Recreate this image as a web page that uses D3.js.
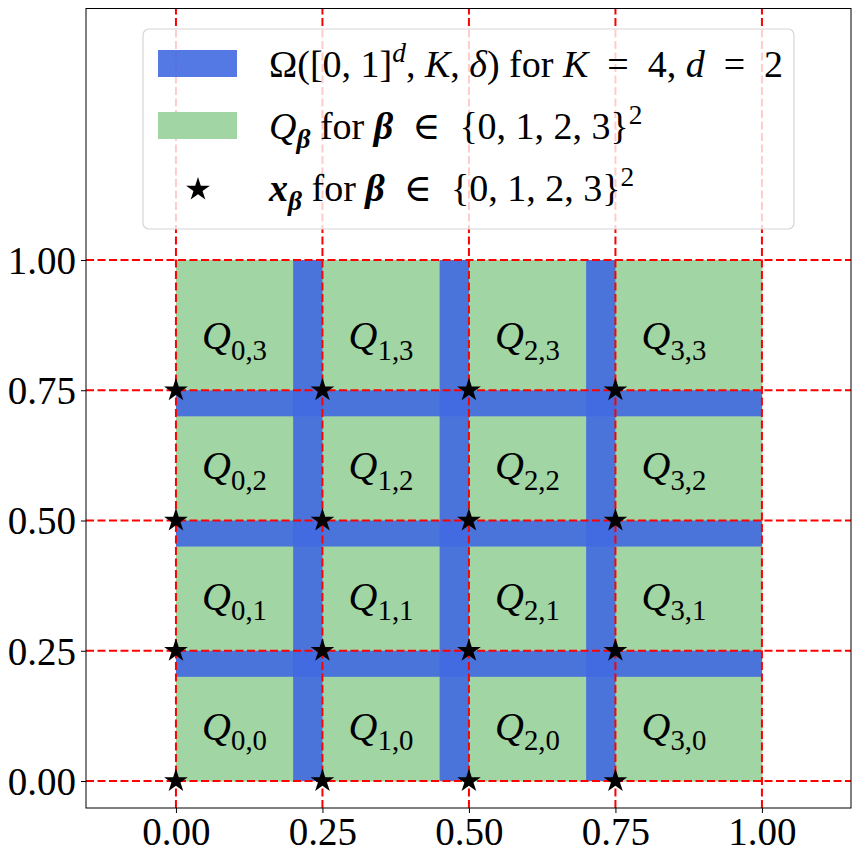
<!DOCTYPE html>
<html>
<head>
<meta charset="utf-8">
<script src="https://cdn.jsdelivr.net/npm/d3@7"></script>
<style>
  body { margin: 0; background: #fff; }
  text { font-family: "Liberation Serif", "DejaVu Serif", serif; fill: #000; }
</style>
</head>
<body>
<div id="chart"></div>
<script>
// Data
var gridTicks  = [0, 0.25, 0.5, 0.75, 1.0];
var tickLabels = ["0.00", "0.25", "0.50", "0.75", "1.00"];
var betaIdx    = [0, 1, 2, 3];                 // beta components
var cellLo     = [0, 0.25, 0.5, 0.75];         // lower corner of Q_beta, also x_beta
var cellHi     = [0.25, 0.5, 0.75, 1.0];
var stripLo    = [0.2, 0.45, 0.7];             // Omega strips
var stripHi    = [0.25, 0.5, 0.75];
var labelPos   = [0.1, 0.35, 0.6, 0.85];       // where the Q labels sit

var W = 860, H = 860;
var box = {left: 86, right: 851, top: 8.5, bottom: 808};

var x = d3.scaleLinear().domain([-0.1535, 1.152]).range([box.left, box.right]);
var y = d3.scaleLinear().domain([-0.0518, 1.4827]).range([box.bottom, box.top]);

var svg = d3.select("#chart").append("svg")
  .attr("width", W).attr("height", H);

var blue = "#4169e1", green = "#a1d5a3";

// green cells
var cells = [];
betaIdx.forEach(function(i){ betaIdx.forEach(function(j){ cells.push({i: i, j: j}); }); });

svg.append("g").selectAll("rect")
  .data(cells).enter().append("rect")
  .attr("x", function(d){ return x(cellLo[d.i]); })
  .attr("y", function(d){ return y(cellHi[d.j]); })
  .attr("width", function(d){ return x(cellHi[d.i]) - x(cellLo[d.i]) + 0.5; })
  .attr("height", function(d){ return y(cellLo[d.j]) - y(cellHi[d.j]) + 0.5; })
  .attr("fill", green);

// blue strips (horizontal then vertical)
var strips = svg.append("g");
strips.selectAll(".hs").data(stripLo).enter().append("rect")
  .attr("class", "hs")
  .attr("x", x(0)).attr("width", x(1) - x(0))
  .attr("y", function(d, k){ return y(stripHi[k]); })
  .attr("height", function(d, k){ return y(d) - y(stripHi[k]); })
  .attr("fill", blue).attr("fill-opacity", 0.9);
strips.selectAll(".vs").data(stripLo).enter().append("rect")
  .attr("class", "vs")
  .attr("x", function(d){ return x(d); })
  .attr("width", function(d, k){ return x(stripHi[k]) - x(d); })
  .attr("y", y(1)).attr("height", y(0) - y(1))
  .attr("fill", blue).attr("fill-opacity", 0.9);

// little math typesetter: roman / italic / bold italic, sub and sup
function mathText(sel, segs, base) {
  var pending = 0;
  segs.forEach(function(s){
    var t = sel.append("tspan").text(s.t);
    var shift = 0;
    if (s.pos === "sub") shift = base * 0.26;
    if (s.pos === "sup") shift = -base * 0.38;
    t.style("font-size", (s.pos ? base * 0.72 : base) + "px");
    if (s.s === "i" || s.s === "bi") t.style("font-style", "italic");
    if (s.s === "bi" || s.s === "b") t.style("font-weight", "bold");
    if (pending + shift !== 0) t.attr("dy", pending + shift);
    pending = -shift;
  });
}

var qg = svg.append("g");
cells.forEach(function(d){
  var t = qg.append("text")
    .attr("x", x(labelPos[d.i]))
    .attr("y", y(labelPos[d.j]) + 11)
    .attr("text-anchor", "middle");
  mathText(t, [{t: "Q", s: "i"}, {t: d.i + "," + d.j, s: "r", pos: "sub"}], 40);
});

// red dashed grid
var grid = svg.append("g").attr("stroke", "#ff0000").attr("stroke-width", 2)
  .attr("stroke-dasharray", "8,3.5").attr("fill", "none");
grid.selectAll(".gv").data(gridTicks).enter().append("line")
  .attr("x1", function(d){ return x(d); }).attr("x2", function(d){ return x(d); })
  .attr("y1", box.bottom).attr("y2", box.top);
grid.selectAll(".gh").data(gridTicks).enter().append("line")
  .attr("y1", function(d){ return y(d); }).attr("y2", function(d){ return y(d); })
  .attr("x1", box.left).attr("x2", box.right);

// stars x_beta
var star = d3.symbol().type(d3.symbolStar).size(175);
svg.append("g").selectAll("path")
  .data(cells).enter().append("path")
  .attr("d", star)
  .attr("transform", function(d){ return "translate(" + x(cellLo[d.i]) + "," + y(cellLo[d.j]) + ")"; })
  .attr("fill", "#000");

// axes
var fmt = function(d){ return tickLabels[gridTicks.indexOf(d)]; };
var xAxis = svg.append("g").attr("transform", "translate(0," + box.bottom + ")")
  .call(d3.axisBottom(x).tickValues(gridTicks).tickFormat(fmt).tickSize(5).tickPadding(4));
var yAxis = svg.append("g").attr("transform", "translate(" + box.left + ",0)")
  .call(d3.axisLeft(y).tickValues(gridTicks).tickFormat(fmt).tickSize(5).tickPadding(5));
[xAxis, yAxis].forEach(function(a){
  a.attr("font-family", null).attr("font-size", null);
  a.select(".domain").remove();
  a.selectAll("text").style("font-size", "39px");
  a.selectAll("line").attr("stroke", "#000").attr("stroke-width", 1);
});
yAxis.selectAll("text").attr("dy", "0.34em");
xAxis.selectAll("text").attr("dy", "0.72em");

svg.append("rect")
  .attr("x", box.left).attr("y", box.top)
  .attr("width", box.right - box.left).attr("height", box.bottom - box.top)
  .attr("fill", "none").attr("stroke", "#000").attr("stroke-width", 1);

// legend
var lg = svg.append("g");
lg.append("rect")
  .attr("x", 143).attr("y", 29).attr("width", 651).attr("height", 200)
  .attr("rx", 6).attr("ry", 6)
  .attr("fill", "#fff").attr("fill-opacity", 0.8)
  .attr("stroke", "#d6d6d6").attr("stroke-width", 1.2);

var legendRows = [
  {kind: "blue", segs: [
    {t: "\u03a9([0, 1]", s: "r"}, {t: "d", s: "i", pos: "sup"}, {t: ", ", s: "r"},
    {t: "K", s: "i"}, {t: ", ", s: "r"}, {t: "\u03b4", s: "i"}, {t: ") for ", s: "r"},
    {t: "K", s: "i"}, {t: "\u2002=\u20024, ", s: "r"}, {t: "d", s: "i"}, {t: "\u2002=\u20022", s: "r"}]},
  {kind: "green", segs: [
    {t: "Q", s: "i"}, {t: "\u03b2", s: "bi", pos: "sub"}, {t: " for ", s: "r"},
    {t: "\u03b2", s: "bi"}, {t: "\u2002\u2208\u2002{0, 1, 2, 3}", s: "r"}, {t: "2", s: "r", pos: "sup"}]},
  {kind: "star", segs: [
    {t: "x", s: "bi"}, {t: "\u03b2", s: "bi", pos: "sub"}, {t: " for ", s: "r"},
    {t: "\u03b2", s: "bi"}, {t: "\u2002\u2208\u2002{0, 1, 2, 3}", s: "r"}, {t: "2", s: "r", pos: "sup"}]}
];

legendRows.forEach(function(r, k){
  var cy = 63.5 + k * 62;
  if (r.kind === "star") {
    lg.append("path").attr("d", star).attr("fill", "#000")
      .attr("transform", "translate(198," + (cy + 2) + ")");
  } else {
    lg.append("rect").attr("x", 158).attr("y", cy - 13.5)
      .attr("width", 79).attr("height", 27)
      .attr("fill", r.kind === "blue" ? blue : green)
      .attr("fill-opacity", r.kind === "blue" ? 0.9 : 1);
  }
  var t = lg.append("text").attr("x", 269).attr("y", cy + 13);
  mathText(t, r.segs, 38);
});
</script>
</body>
</html>
